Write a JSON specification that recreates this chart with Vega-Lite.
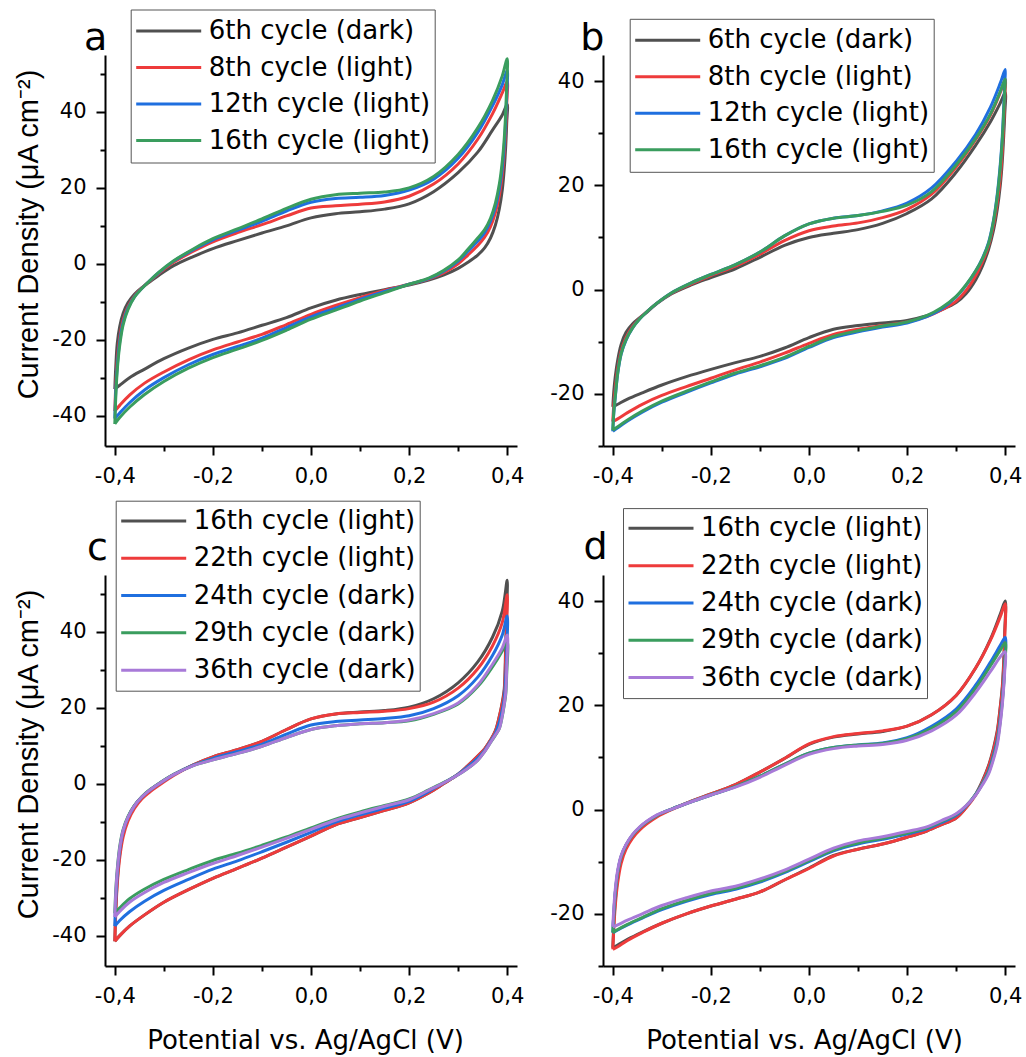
{
"$schema": "https://vega.github.io/schema/vega-lite/v6.json",
"padding": {"left": 13, "top": 9, "right": 5, "bottom": 2},
"config": {
  "view": {"stroke": null},
  "axis": {"grid": false, "domainColor": "#000", "domainWidth": 2, "tickColor": "#000", "tickWidth": 2, "labelColor": "#000", "labelFont": "DejaVu Sans", "labelFontSize": 21, "labelFlush": false, "labelOverlap": false, "titleColor": "#000", "titleFontWeight": "normal"},
  "axisX": {"labelPadding": 10},
  "axisY": {"labelPadding": 10},
  "legend": {"symbolType": "stroke", "symbolSize": 4225, "symbolStrokeWidth": 3, "padding": 4, "labelOffset": 6, "labelFont": "DejaVu Sans", "labelFontSize": 26, "labelColor": "#000", "labelLimit": 400, "strokeColor": "#555", "fillColor": "#fff"},
  "title": {"font": "DejaVu Sans", "fontSize": 38, "fontWeight": "normal", "anchor": "start", "frame": "group", "baseline": "alphabetic", "offset": 0, "color": "#000"},
  "line": {"strokeWidth": 3, "interpolate": "catmull-rom"}
},
"datasets": {
"A": [
{"o":1,"x":-0.4,"g":-33,"r":-38.8,"b":-40.8,"n":-42.2},
{"o":2,"x":-0.398,"g":-27,"r":-32,"b":-33.5,"n":-35},
{"o":3,"x":-0.395,"g":-21,"r":-25.5,"b":-27,"n":-28},
{"o":4,"x":-0.39,"g":-16.5,"r":-19.5,"b":-20.5,"n":-21.5},
{"o":5,"x":-0.383,"g":-13,"r":-14.8,"b":-15.5,"n":-16},
{"o":6,"x":-0.373,"g":-10.2,"r":-11.3,"b":-11.7,"n":-12},
{"o":7,"x":-0.36,"g":-8,"r":-8.5,"b":-8.7,"n":-8.8},
{"o":8,"x":-0.345,"g":-6.3,"r":-6.4,"b":-6.5,"n":-6.5},
{"o":9,"x":-0.33,"g":-4.9,"r":-4.7,"b":-4.6,"n":-4.6},
{"o":10,"x":-0.31,"g":-3,"r":-2.5,"b":-2.3,"n":-2.2},
{"o":11,"x":-0.28,"g":-0.5,"r":0.4,"b":0.7,"n":0.8},
{"o":12,"x":-0.24,"g":1.9,"r":3.3,"b":3.7,"n":3.9},
{"o":13,"x":-0.2,"g":4,"r":5.8,"b":6.3,"n":6.6},
{"o":14,"x":-0.15,"g":6.1,"r":8.2,"b":8.8,"n":9.2},
{"o":15,"x":-0.1,"g":8.1,"r":10.3,"b":11.2,"n":11.8},
{"o":16,"x":-0.05,"g":10,"r":12.6,"b":13.9,"n":14.6},
{"o":17,"x":0,"g":12.1,"r":14.7,"b":16.2,"n":17},
{"o":18,"x":0.05,"g":13.2,"r":15.3,"b":17.2,"n":18.2},
{"o":19,"x":0.1,"g":13.7,"r":15.7,"b":17.5,"n":18.6},
{"o":20,"x":0.15,"g":14.4,"r":16.3,"b":18,"n":18.9},
{"o":21,"x":0.2,"g":15.8,"r":17.8,"b":19.4,"n":20},
{"o":22,"x":0.25,"g":19,"r":21,"b":22.3,"n":23},
{"o":23,"x":0.3,"g":24,"r":26.3,"b":27.8,"n":28.8},
{"o":24,"x":0.34,"g":29.4,"r":32.8,"b":34.6,"n":35.8},
{"o":25,"x":0.37,"g":35.2,"r":39.5,"b":41.6,"n":43},
{"o":26,"x":0.39,"g":39.2,"r":45,"b":47.2,"n":49.5},
{"o":27,"x":0.4,"g":42,"r":48,"b":51,"n":54},
{"o":28,"x":0.399,"g":37,"r":42,"b":44.5,"n":47},
{"o":29,"x":0.397,"g":31,"r":35.5,"b":38,"n":40},
{"o":30,"x":0.394,"g":25,"r":29,"b":31,"n":33},
{"o":31,"x":0.39,"g":19.5,"r":23.5,"b":25.3,"n":27},
{"o":32,"x":0.384,"g":14.5,"r":18,"b":19.8,"n":21},
{"o":33,"x":0.376,"g":10.2,"r":13.5,"b":15,"n":16},
{"o":34,"x":0.366,"g":6.8,"r":9.8,"b":11.2,"n":12},
{"o":35,"x":0.354,"g":4.2,"r":7,"b":8.2,"n":9},
{"o":36,"x":0.34,"g":2.3,"r":4.8,"b":6,"n":6.8},
{"o":37,"x":0.32,"g":0.4,"r":2.3,"b":3.3,"n":3.8},
{"o":38,"x":0.3,"g":-1.2,"r":0,"b":0.7,"n":1},
{"o":39,"x":0.27,"g":-3,"r":-2.4,"b":-2,"n":-1.8},
{"o":40,"x":0.24,"g":-4.3,"r":-4,"b":-3.9,"n":-3.8},
{"o":41,"x":0.2,"g":-5.6,"r":-5.4,"b":-5.4,"n":-5.4},
{"o":42,"x":0.15,"g":-6.8,"r":-7,"b":-7.3,"n":-7.6},
{"o":43,"x":0.1,"g":-8.1,"r":-8.9,"b":-9.4,"n":-9.8},
{"o":44,"x":0.05,"g":-9.6,"r":-11,"b":-11.7,"n":-12.2},
{"o":45,"x":0,"g":-11.6,"r":-13.3,"b":-14,"n":-14.6},
{"o":46,"x":-0.05,"g":-14.2,"r":-16,"b":-16.8,"n":-17.5},
{"o":47,"x":-0.1,"g":-16.2,"r":-18.6,"b":-19.6,"n":-20.2},
{"o":48,"x":-0.15,"g":-18.2,"r":-20.6,"b":-21.8,"n":-22.5},
{"o":49,"x":-0.2,"g":-19.9,"r":-22.7,"b":-23.9,"n":-24.7},
{"o":50,"x":-0.25,"g":-22.2,"r":-25.3,"b":-26.6,"n":-27.5},
{"o":51,"x":-0.3,"g":-25,"r":-28.5,"b":-30,"n":-31},
{"o":52,"x":-0.34,"g":-27.8,"r":-31.5,"b":-33.3,"n":-34.5},
{"o":53,"x":-0.37,"g":-30,"r":-34.6,"b":-36.6,"n":-37.8},
{"o":54,"x":-0.39,"g":-32,"r":-37.3,"b":-39.3,"n":-40.5},
{"o":55,"x":-0.4,"g":-33,"r":-38.8,"b":-40.8,"n":-42.2}
],
"B": [
{"o":1,"x":-0.4,"g":-22.5,"r":-25.3,"b":-27.2,"n":-27},
{"o":2,"x":-0.398,"g":-19.5,"r":-22,"b":-23.7,"n":-23.5},
{"o":3,"x":-0.395,"g":-16.7,"r":-19,"b":-20.7,"n":-20.5},
{"o":4,"x":-0.39,"g":-13.5,"r":-15.2,"b":-16.1,"n":-16},
{"o":5,"x":-0.383,"g":-10.5,"r":-11.8,"b":-12.4,"n":-12.3},
{"o":6,"x":-0.373,"g":-8.2,"r":-9.2,"b":-9.7,"n":-9.6},
{"o":7,"x":-0.36,"g":-6.6,"r":-7.1,"b":-7.4,"n":-7.4},
{"o":8,"x":-0.345,"g":-5.4,"r":-5.5,"b":-5.6,"n":-5.6},
{"o":9,"x":-0.33,"g":-4.3,"r":-4.2,"b":-4.2,"n":-4.2},
{"o":10,"x":-0.31,"g":-2.7,"r":-2.6,"b":-2.6,"n":-2.6},
{"o":11,"x":-0.28,"g":-0.8,"r":-0.7,"b":-0.6,"n":-0.6},
{"o":12,"x":-0.24,"g":0.9,"r":1.1,"b":1.3,"n":1.3},
{"o":13,"x":-0.2,"g":2.3,"r":2.7,"b":2.9,"n":2.9},
{"o":14,"x":-0.15,"g":4,"r":4.5,"b":4.8,"n":4.8},
{"o":15,"x":-0.1,"g":6.2,"r":6.8,"b":7.2,"n":7.2},
{"o":16,"x":-0.05,"g":8.5,"r":9.4,"b":10.3,"n":10.3},
{"o":17,"x":0,"g":10,"r":11.3,"b":12.6,"n":12.6},
{"o":18,"x":0.05,"g":10.8,"r":12.2,"b":13.7,"n":13.7},
{"o":19,"x":0.1,"g":11.5,"r":12.8,"b":14.2,"n":14.2},
{"o":20,"x":0.15,"g":12.7,"r":13.8,"b":15.1,"n":15},
{"o":21,"x":0.2,"g":14.6,"r":15.4,"b":16.6,"n":16.2},
{"o":22,"x":0.25,"g":17.4,"r":18.3,"b":19.5,"n":18.8},
{"o":23,"x":0.3,"g":22.5,"r":23.5,"b":24.6,"n":23.9},
{"o":24,"x":0.34,"g":27.7,"r":28.8,"b":29.8,"n":29},
{"o":25,"x":0.37,"g":32.2,"r":33.5,"b":35,"n":33.7},
{"o":26,"x":0.39,"g":35.8,"r":37.8,"b":39.6,"n":38},
{"o":27,"x":0.4,"g":37.8,"r":40.3,"b":42.2,"n":40.4},
{"o":28,"x":0.399,"g":33.5,"r":36.5,"b":39.5,"n":38},
{"o":29,"x":0.397,"g":29.5,"r":32,"b":35,"n":34},
{"o":30,"x":0.394,"g":24.5,"r":26.5,"b":29.2,"n":28.5},
{"o":31,"x":0.39,"g":20,"r":21.5,"b":24,"n":23.5},
{"o":32,"x":0.384,"g":15.5,"r":16.8,"b":18.4,"n":18},
{"o":33,"x":0.376,"g":11.3,"r":12.3,"b":13.2,"n":13},
{"o":34,"x":0.366,"g":7.7,"r":8.4,"b":9,"n":8.8},
{"o":35,"x":0.354,"g":4.6,"r":5.4,"b":6.1,"n":6},
{"o":36,"x":0.34,"g":1.9,"r":2.7,"b":3.6,"n":3.6},
{"o":37,"x":0.32,"g":-0.8,"r":-0.2,"b":0.8,"n":0.9},
{"o":38,"x":0.3,"g":-2.5,"r":-2.2,"b":-1.4,"n":-1.3},
{"o":39,"x":0.27,"g":-3.9,"r":-3.9,"b":-3.7,"n":-3.5},
{"o":40,"x":0.24,"g":-5,"r":-5.2,"b":-5.2,"n":-5},
{"o":41,"x":0.2,"g":-5.9,"r":-6.2,"b":-6.4,"n":-6.2},
{"o":42,"x":0.15,"g":-6.4,"r":-6.9,"b":-7.2,"n":-7},
{"o":43,"x":0.1,"g":-6.9,"r":-7.6,"b":-8.1,"n":-7.9},
{"o":44,"x":0.05,"g":-7.6,"r":-8.6,"b":-9.2,"n":-9},
{"o":45,"x":0,"g":-9.2,"r":-10.3,"b":-11.1,"n":-10.9},
{"o":46,"x":-0.05,"g":-11.2,"r":-12.2,"b":-13.2,"n":-13},
{"o":47,"x":-0.1,"g":-12.8,"r":-13.9,"b":-14.8,"n":-14.6},
{"o":48,"x":-0.15,"g":-14,"r":-15.4,"b":-16.2,"n":-16},
{"o":49,"x":-0.2,"g":-15.3,"r":-17,"b":-17.9,"n":-17.7},
{"o":50,"x":-0.25,"g":-16.7,"r":-18.6,"b":-19.7,"n":-19.5},
{"o":51,"x":-0.3,"g":-18.3,"r":-20.3,"b":-21.6,"n":-21.4},
{"o":52,"x":-0.34,"g":-19.8,"r":-22,"b":-23.5,"n":-23.3},
{"o":53,"x":-0.37,"g":-21,"r":-23.6,"b":-25.2,"n":-25},
{"o":54,"x":-0.39,"g":-22,"r":-24.8,"b":-26.5,"n":-26.3},
{"o":55,"x":-0.4,"g":-22.5,"r":-25.3,"b":-27.2,"n":-27}
],
"C": [
{"o":1,"x":-0.4,"g":-41.5,"r":-41.5,"b":-37.5,"n":-34.1,"p":-35.1},
{"o":2,"x":-0.398,"g":-33,"r":-34,"b":-30.5,"n":-28,"p":-28.8},
{"o":3,"x":-0.395,"g":-25.5,"r":-26.5,"b":-24,"n":-22.5,"p":-23},
{"o":4,"x":-0.39,"g":-18.5,"r":-19.5,"b":-17.5,"n":-16.5,"p":-17},
{"o":5,"x":-0.383,"g":-13,"r":-14,"b":-12.5,"n":-12,"p":-12.3},
{"o":6,"x":-0.373,"g":-9,"r":-9.8,"b":-8.8,"n":-8.6,"p":-8.8},
{"o":7,"x":-0.36,"g":-5.8,"r":-6.5,"b":-5.8,"n":-5.7,"p":-5.8},
{"o":8,"x":-0.345,"g":-3.5,"r":-4,"b":-3.5,"n":-3.4,"p":-3.5},
{"o":9,"x":-0.33,"g":-1.8,"r":-2.3,"b":-1.8,"n":-1.7,"p":-1.8},
{"o":10,"x":-0.31,"g":0,"r":-0.4,"b":0,"n":0.1,"p":0},
{"o":11,"x":-0.28,"g":2.4,"r":2.2,"b":2.4,"n":2.5,"p":2.4},
{"o":12,"x":-0.24,"g":5,"r":5,"b":4.9,"n":4.8,"p":4.8},
{"o":13,"x":-0.2,"g":7.1,"r":7.1,"b":6.7,"n":6.3,"p":6.3},
{"o":14,"x":-0.15,"g":9,"r":9,"b":8.5,"n":8,"p":8},
{"o":15,"x":-0.1,"g":11.2,"r":11.2,"b":10.4,"n":9.9,"p":9.9},
{"o":16,"x":-0.05,"g":14.3,"r":14.3,"b":13.1,"n":12.2,"p":12.2},
{"o":17,"x":0,"g":17.1,"r":17.1,"b":15.5,"n":14.3,"p":14.3},
{"o":18,"x":0.05,"g":18.4,"r":18.4,"b":16.4,"n":15.3,"p":15.3},
{"o":19,"x":0.1,"g":18.9,"r":18.8,"b":16.8,"n":15.8,"p":15.8},
{"o":20,"x":0.15,"g":19.3,"r":19.1,"b":17.2,"n":16.1,"p":16.1},
{"o":21,"x":0.2,"g":20.2,"r":19.8,"b":17.9,"n":16.6,"p":16.8},
{"o":22,"x":0.25,"g":22.4,"r":21.5,"b":19.8,"n":18.3,"p":18.5},
{"o":23,"x":0.3,"g":26.6,"r":25.2,"b":23.2,"n":21,"p":21.3},
{"o":24,"x":0.34,"g":32.1,"r":30.3,"b":28.1,"n":25.6,"p":26},
{"o":25,"x":0.37,"g":38.6,"r":36.3,"b":33.8,"n":30.8,"p":31.5},
{"o":26,"x":0.39,"g":45.5,"r":42.5,"b":39.2,"n":35,"p":35.8},
{"o":27,"x":0.4,"g":53.6,"r":49.8,"b":44.2,"n":37.5,"p":39.2},
{"o":28,"x":0.399,"g":46,"r":42,"b":35,"n":29,"p":30.5},
{"o":29,"x":0.397,"g":37,"r":34,"b":28,"n":23.5,"p":24},
{"o":30,"x":0.394,"g":25,"r":24,"b":22.5,"n":20.8,"p":21},
{"o":31,"x":0.39,"g":21.5,"r":21.2,"b":19.5,"n":17.8,"p":18},
{"o":32,"x":0.384,"g":17.8,"r":17.6,"b":16.2,"n":14.6,"p":14.6},
{"o":33,"x":0.376,"g":14,"r":13.9,"b":13.3,"n":12.8,"p":12.9},
{"o":34,"x":0.366,"g":11.5,"r":11.5,"b":11.2,"n":10.9,"p":10.9},
{"o":35,"x":0.354,"g":9.2,"r":9.2,"b":8.8,"n":8.5,"p":8.5},
{"o":36,"x":0.34,"g":7.3,"r":7.3,"b":6.8,"n":6.2,"p":6.2},
{"o":37,"x":0.32,"g":4.8,"r":4.8,"b":4.5,"n":4.1,"p":4.1},
{"o":38,"x":0.3,"g":2.5,"r":2.5,"b":2.5,"n":2.4,"p":2.4},
{"o":39,"x":0.27,"g":0,"r":0,"b":0.2,"n":0.3,"p":0.2},
{"o":40,"x":0.24,"g":-2.4,"r":-2.4,"b":-2,"n":-1.6,"p":-1.7},
{"o":41,"x":0.2,"g":-5,"r":-5,"b":-4.6,"n":-4,"p":-4.2},
{"o":42,"x":0.15,"g":-7,"r":-7,"b":-6.4,"n":-5.7,"p":-5.9},
{"o":43,"x":0.1,"g":-8.9,"r":-8.9,"b":-8.2,"n":-7.4,"p":-7.7},
{"o":44,"x":0.05,"g":-10.8,"r":-10.8,"b":-10.1,"n":-9.3,"p":-9.6},
{"o":45,"x":0,"g":-13.8,"r":-13.8,"b":-12.8,"n":-11.6,"p":-12},
{"o":46,"x":-0.05,"g":-16.7,"r":-16.7,"b":-15.4,"n":-14,"p":-14.4},
{"o":47,"x":-0.1,"g":-19.6,"r":-19.6,"b":-17.9,"n":-16.2,"p":-16.7},
{"o":48,"x":-0.15,"g":-22.3,"r":-22.3,"b":-20.3,"n":-18.3,"p":-18.9},
{"o":49,"x":-0.2,"g":-24.9,"r":-24.9,"b":-22.5,"n":-20.2,"p":-21},
{"o":50,"x":-0.25,"g":-27.9,"r":-27.9,"b":-25.2,"n":-22.6,"p":-23.4},
{"o":51,"x":-0.3,"g":-31.2,"r":-31.2,"b":-28.1,"n":-25.2,"p":-26},
{"o":52,"x":-0.34,"g":-34.6,"r":-34.6,"b":-31,"n":-27.8,"p":-28.7},
{"o":53,"x":-0.37,"g":-37.5,"r":-37.5,"b":-33.7,"n":-30.3,"p":-31.2},
{"o":54,"x":-0.39,"g":-40,"r":-40,"b":-36,"n":-32.7,"p":-33.6},
{"o":55,"x":-0.4,"g":-41.5,"r":-41.5,"b":-37.5,"n":-34.1,"p":-35.1}
],
"D": [
{"o":1,"x":-0.4,"g":-26.5,"r":-26.8,"b":-23.6,"n":-23.6,"p":-22.5},
{"o":2,"x":-0.398,"g":-22,"r":-23,"b":-20,"n":-20,"p":-19},
{"o":3,"x":-0.395,"g":-17.5,"r":-18.5,"b":-16,"n":-16,"p":-15.3},
{"o":4,"x":-0.39,"g":-13,"r":-14,"b":-12,"n":-12,"p":-11.6},
{"o":5,"x":-0.383,"g":-9.5,"r":-10.3,"b":-9,"n":-9,"p":-8.8},
{"o":6,"x":-0.373,"g":-7,"r":-7.6,"b":-6.8,"n":-6.8,"p":-6.7},
{"o":7,"x":-0.36,"g":-5,"r":-5.5,"b":-4.9,"n":-4.9,"p":-4.8},
{"o":8,"x":-0.345,"g":-3.5,"r":-3.9,"b":-3.4,"n":-3.4,"p":-3.3},
{"o":9,"x":-0.33,"g":-2.4,"r":-2.7,"b":-2.3,"n":-2.3,"p":-2.2},
{"o":10,"x":-0.31,"g":-1.2,"r":-1.4,"b":-1.1,"n":-1.1,"p":-1},
{"o":11,"x":-0.28,"g":0.1,"r":0,"b":0.1,"n":0.1,"p":0.1},
{"o":12,"x":-0.24,"g":1.6,"r":1.6,"b":1.5,"n":1.5,"p":1.5},
{"o":13,"x":-0.2,"g":3,"r":3,"b":2.8,"n":2.8,"p":2.8},
{"o":14,"x":-0.15,"g":4.8,"r":4.8,"b":4.4,"n":4.4,"p":4.3},
{"o":15,"x":-0.1,"g":7.2,"r":7.2,"b":6.4,"n":6.4,"p":6.2},
{"o":16,"x":-0.05,"g":9.8,"r":9.8,"b":8.7,"n":8.7,"p":8.5},
{"o":17,"x":0,"g":12.5,"r":12.6,"b":10.8,"n":10.8,"p":10.6},
{"o":18,"x":0.05,"g":13.9,"r":14,"b":11.9,"n":11.9,"p":11.7},
{"o":19,"x":0.1,"g":14.5,"r":14.6,"b":12.4,"n":12.4,"p":12.2},
{"o":20,"x":0.15,"g":15,"r":15.1,"b":12.8,"n":12.7,"p":12.5},
{"o":21,"x":0.2,"g":16,"r":16,"b":13.8,"n":13.6,"p":13.3},
{"o":22,"x":0.25,"g":18.2,"r":18.2,"b":16,"n":15.6,"p":15.1},
{"o":23,"x":0.3,"g":21.9,"r":21.9,"b":19.3,"n":18.8,"p":18.1},
{"o":24,"x":0.34,"g":27.2,"r":27.2,"b":23.9,"n":23.3,"p":22.5},
{"o":25,"x":0.37,"g":32.7,"r":32.5,"b":28.3,"n":27.6,"p":26.5},
{"o":26,"x":0.39,"g":37.5,"r":37,"b":31.5,"n":30.6,"p":29.3},
{"o":27,"x":0.4,"g":40,"r":39.5,"b":33,"n":32,"p":30.3},
{"o":28,"x":0.399,"g":34,"r":33,"b":28,"n":27.5,"p":26.5},
{"o":29,"x":0.397,"g":28.5,"r":27.5,"b":24.5,"n":24,"p":23.5},
{"o":30,"x":0.394,"g":23.5,"r":23,"b":21,"n":20.5,"p":20},
{"o":31,"x":0.39,"g":19.8,"r":19.5,"b":17.5,"n":17,"p":16.5},
{"o":32,"x":0.384,"g":15.2,"r":14.9,"b":13.5,"n":13,"p":12.5},
{"o":33,"x":0.376,"g":11.7,"r":11.4,"b":10.4,"n":10,"p":9.6},
{"o":34,"x":0.366,"g":8.4,"r":8.2,"b":7.4,"n":7.1,"p":6.8},
{"o":35,"x":0.354,"g":5.6,"r":5.4,"b":5.1,"n":5,"p":4.8},
{"o":36,"x":0.34,"g":3,"r":2.8,"b":2.9,"n":2.9,"p":2.8},
{"o":37,"x":0.32,"g":0.4,"r":0.3,"b":0.6,"n":0.7,"p":0.7},
{"o":38,"x":0.3,"g":-1.6,"r":-1.6,"b":-1.1,"n":-0.9,"p":-0.8},
{"o":39,"x":0.27,"g":-2.9,"r":-2.9,"b":-2.5,"n":-2.3,"p":-2.1},
{"o":40,"x":0.24,"g":-4.1,"r":-4.1,"b":-3.7,"n":-3.5,"p":-3.3},
{"o":41,"x":0.2,"g":-5.3,"r":-5.3,"b":-4.7,"n":-4.5,"p":-4.2},
{"o":42,"x":0.15,"g":-6.6,"r":-6.6,"b":-5.7,"n":-5.5,"p":-5.2},
{"o":43,"x":0.1,"g":-7.6,"r":-7.6,"b":-6.6,"n":-6.4,"p":-6},
{"o":44,"x":0.05,"g":-8.8,"r":-8.9,"b":-7.9,"n":-7.7,"p":-7.4},
{"o":45,"x":0,"g":-11.2,"r":-11.3,"b":-10,"n":-9.8,"p":-9.5},
{"o":46,"x":-0.05,"g":-13.5,"r":-13.5,"b":-12.1,"n":-11.9,"p":-11.6},
{"o":47,"x":-0.1,"g":-15.8,"r":-15.8,"b":-13.9,"n":-13.7,"p":-13.3},
{"o":48,"x":-0.15,"g":-17.2,"r":-17.2,"b":-15.3,"n":-15.1,"p":-14.7},
{"o":49,"x":-0.2,"g":-18.5,"r":-18.5,"b":-16.3,"n":-16.1,"p":-15.6},
{"o":50,"x":-0.25,"g":-20,"r":-20,"b":-17.6,"n":-17.4,"p":-16.9},
{"o":51,"x":-0.3,"g":-21.8,"r":-21.8,"b":-19.2,"n":-19,"p":-18.4},
{"o":52,"x":-0.34,"g":-23.5,"r":-23.6,"b":-20.8,"n":-20.7,"p":-20},
{"o":53,"x":-0.37,"g":-24.9,"r":-25.1,"b":-22.1,"n":-22,"p":-21.2},
{"o":54,"x":-0.39,"g":-26,"r":-26.3,"b":-23.1,"n":-23,"p":-22.1},
{"o":55,"x":-0.4,"g":-26.5,"r":-26.8,"b":-23.6,"n":-23.6,"p":-22.5}
]
},
"concat": [
{
  "width": 412, "height": 391,
  "data": {"name": "A"},
  "transform": [{"fold": ["g","r","b","n"], "as": ["k","v"]}],
  "title": {"text": "a", "dx": -21, "dy": 52.75},
  "mark": {"type": "line", "strokeWidth": 3},
  "encoding": {
    "x": {"field": "x", "type": "quantitative", "scale": {"domain": [-0.42, 0.42], "nice": false, "zero": false},
      "axis": {"title": null, "values": [-0.4,-0.3,-0.2,-0.1,0,0.1,0.2,0.3,0.4],
        "labelExpr": "round(datum.value*10)%2==0?replace(replace(format(datum.value,'.1f'),'.',','),'\u2212','-'):''",
        "tickSize": {"condition": {"test": "round(datum.value*10)%2==0", "value": 9}, "value": 5}}},
    "y": {"field": "v", "type": "quantitative", "scale": {"domain": [-48, 55], "nice": false, "zero": false},
      "axis": {"title": "Current Density (\u03bcA cm\u207b\u00b2)", "titleFont": "Liberation Sans", "titleFontSize": 29, "titleX": -68, "titleY": 179, "titleAngle": -90, "titleBaseline": "alphabetic", "titleAlign": "center",
        "values": [-40,-30,-20,-10,0,10,20,30,40,50],
        "labelExpr": "datum.value%20==0?replace(datum.label,'\u2212','-'):''",
        "tickSize": {"condition": {"test": "datum.value%20==0", "value": 9}, "value": 5}}},
    "color": {"field": "k", "type": "nominal", "scale": {"domain": ["g","r","b","n"], "range": ["#505050","#ee3b3b","#1f6fdf","#3a9d5e"]},
      "legend": {"title": null, "orient": "none", "legendX": 25.7, "legendY": -45.5, "clipHeight": 35, "rowPadding": 1.5,
        "labelExpr": "datum.label=='g'?'6th cycle (dark)':datum.label=='r'?'8th cycle (light)':datum.label=='b'?'12th cycle (light)':'16th cycle (light)'"}},
    "order": {"field": "o", "type": "quantitative"}
  }
},
{
  "width": 412, "height": 391,
  "data": {"name": "B"},
  "transform": [{"fold": ["g","r","b","n"], "as": ["k","v"]}],
  "title": {"text": "b", "dx": -22.7, "dy": 43.8},
  "mark": {"type": "line", "strokeWidth": 3},
  "encoding": {
    "x": {"field": "x", "type": "quantitative", "scale": {"domain": [-0.42, 0.42], "nice": false, "zero": false},
      "axis": {"title": null, "values": [-0.4,-0.3,-0.2,-0.1,0,0.1,0.2,0.3,0.4],
        "labelExpr": "round(datum.value*10)%2==0?replace(replace(format(datum.value,'.1f'),'.',','),'\u2212','-'):''",
        "tickSize": {"condition": {"test": "round(datum.value*10)%2==0", "value": 9}, "value": 5}}},
    "y": {"field": "v", "type": "quantitative", "scale": {"domain": [-30, 45], "nice": false, "zero": false},
      "axis": {"title": null,
        "values": [-30,-20,-10,0,10,20,30,40],
        "labelExpr": "datum.value%20==0?replace(datum.label,'\u2212','-'):''",
        "tickSize": {"condition": {"test": "datum.value%20==0", "value": 9}, "value": 5}}},
    "color": {"field": "k", "type": "nominal", "scale": {"domain": ["g","r","b","n"], "range": ["#505050","#ee3b3b","#1f6fdf","#3a9d5e"]},
      "legend": {"title": null, "orient": "none", "legendX": 26.7, "legendY": -36.2, "clipHeight": 35, "rowPadding": 1.5,
        "labelExpr": "datum.label=='g'?'6th cycle (dark)':datum.label=='r'?'8th cycle (light)':datum.label=='b'?'12th cycle (light)':'16th cycle (light)'"}},
    "order": {"field": "o", "type": "quantitative"}
  }
},
{
  "width": 412, "height": 391,
  "data": {"name": "C"},
  "transform": [{"fold": ["g","r","b","n","p"], "as": ["k","v"]}],
  "title": {"text": "c", "dx": -18, "dy": 72.2},
  "mark": {"type": "line", "strokeWidth": 3},
  "encoding": {
    "x": {"field": "x", "type": "quantitative", "scale": {"domain": [-0.42, 0.42], "nice": false, "zero": false},
      "axis": {"title": "Potential vs. Ag/AgCl (V)", "titleFont": "DejaVu Sans", "titleFontSize": 26, "titleX": 200, "titleY": 82, "titleBaseline": "alphabetic", "titleAlign": "center",
        "values": [-0.4,-0.3,-0.2,-0.1,0,0.1,0.2,0.3,0.4],
        "labelExpr": "round(datum.value*10)%2==0?replace(replace(format(datum.value,'.1f'),'.',','),'\u2212','-'):''",
        "tickSize": {"condition": {"test": "round(datum.value*10)%2==0", "value": 9}, "value": 5}}},
    "y": {"field": "v", "type": "quantitative", "scale": {"domain": [-48, 55], "nice": false, "zero": false},
      "axis": {"title": "Current Density (\u03bcA cm\u207b\u00b2)", "titleFont": "Liberation Sans", "titleFontSize": 29, "titleX": -68, "titleY": 179, "titleAngle": -90, "titleBaseline": "alphabetic", "titleAlign": "center",
        "values": [-40,-30,-20,-10,0,10,20,30,40,50],
        "labelExpr": "datum.value%20==0?replace(datum.label,'\u2212','-'):''",
        "tickSize": {"condition": {"test": "datum.value%20==0", "value": 9}, "value": 5}}},
    "color": {"field": "k", "type": "nominal", "scale": {"domain": ["g","r","b","n","p"], "range": ["#505050","#ee3b3b","#1f6fdf","#3a9d5e","#a87ad8"]},
      "legend": {"title": null, "orient": "none", "legendX": 10.7, "legendY": -74.3, "clipHeight": 32.5, "rowPadding": 4.3,
        "labelExpr": "datum.label=='g'?'16th cycle (light)':datum.label=='r'?'22th cycle (light)':datum.label=='b'?'24th cycle (dark)':datum.label=='n'?'29th cycle (dark)':'36th cycle (dark)'"}},
    "order": {"field": "o", "type": "quantitative"}
  }
},
{
  "width": 412, "height": 391,
  "data": {"name": "D"},
  "transform": [{"fold": ["g","r","b","n","p"], "as": ["k","v"]}],
  "title": {"text": "d", "dx": -19.5, "dy": 63},
  "mark": {"type": "line", "strokeWidth": 3},
  "encoding": {
    "x": {"field": "x", "type": "quantitative", "scale": {"domain": [-0.42, 0.42], "nice": false, "zero": false},
      "axis": {"title": "Potential vs. Ag/AgCl (V)", "titleFont": "DejaVu Sans", "titleFontSize": 26, "titleX": 201, "titleY": 82, "titleBaseline": "alphabetic", "titleAlign": "center",
        "values": [-0.4,-0.3,-0.2,-0.1,0,0.1,0.2,0.3,0.4],
        "labelExpr": "round(datum.value*10)%2==0?replace(replace(format(datum.value,'.1f'),'.',','),'\u2212','-'):''",
        "tickSize": {"condition": {"test": "round(datum.value*10)%2==0", "value": 9}, "value": 5}}},
    "y": {"field": "v", "type": "quantitative", "scale": {"domain": [-30, 45], "nice": false, "zero": false},
      "axis": {"title": null,
        "values": [-30,-20,-10,0,10,20,30,40],
        "labelExpr": "datum.value%20==0?replace(datum.label,'\u2212','-'):''",
        "tickSize": {"condition": {"test": "datum.value%20==0", "value": 9}, "value": 5}}},
    "color": {"field": "k", "type": "nominal", "scale": {"domain": ["g","r","b","n","p"], "range": ["#505050","#ee3b3b","#1f6fdf","#3a9d5e","#a87ad8"]},
      "legend": {"title": null, "orient": "none", "legendX": 20, "legendY": -66.9, "clipHeight": 32.5, "rowPadding": 4.3,
        "labelExpr": "datum.label=='g'?'16th cycle (light)':datum.label=='r'?'22th cycle (light)':datum.label=='b'?'24th cycle (dark)':datum.label=='n'?'29th cycle (dark)':'36th cycle (dark)'"}},
    "order": {"field": "o", "type": "quantitative"}
  }
}
],
"columns": 2,
"spacing": {"row": 129, "column": 86},
"bounds": "flush",
"resolve": {"scale": {"x": "independent", "y": "independent", "color": "independent"}, "legend": {"color": "independent"}, "axis": {"x": "independent", "y": "independent"}}
}
